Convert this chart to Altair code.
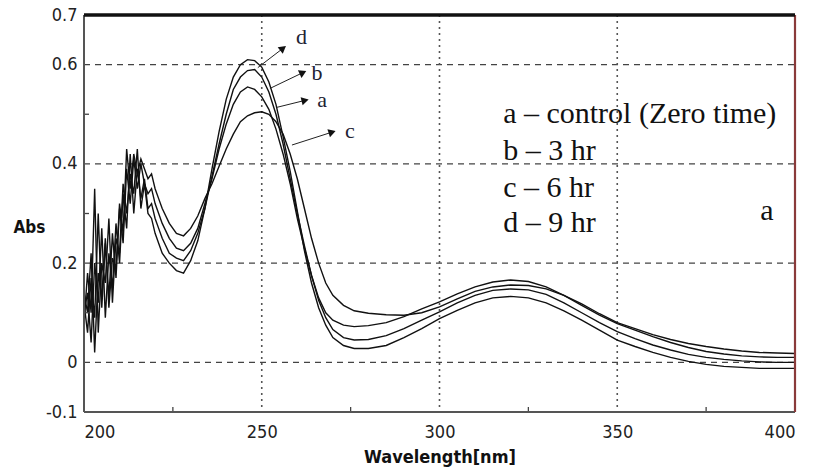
import math
import altair as alt
import pandas as pd

# ---------------- data ----------------
wl = [200, 201, 202, 203, 204, 205, 206, 207, 208, 209, 210, 211, 212, 213, 214, 215,
      216, 217, 218, 219, 220, 221, 222,
      224, 226, 228, 230, 232, 234, 236, 238, 240, 242, 244, 246, 248, 250, 252, 254,
      256, 258, 260, 262, 264, 266, 268, 270, 273, 276, 280, 285, 290, 295, 300, 305,
      310, 315, 320, 325, 330, 335, 340, 345, 350, 355, 360, 365, 370, 375, 380, 385,
      390, 395, 400]

abs_a = [0.12, 0.06, 0.17, 0.09, 0.30, 0.11, 0.24, 0.13, 0.26, 0.17, 0.31, 0.24, 0.39, 0.32,
         0.41, 0.35, 0.40, 0.36, 0.34, 0.35, 0.32, 0.30, 0.28,
         0.25, 0.23, 0.225, 0.24, 0.27, 0.32, 0.37, 0.43, 0.48, 0.52, 0.545, 0.555, 0.55,
         0.535, 0.51, 0.47, 0.42, 0.36, 0.29, 0.23, 0.175, 0.13, 0.10, 0.085, 0.075, 0.072,
         0.074, 0.08, 0.092, 0.108, 0.122, 0.138, 0.152, 0.162, 0.166, 0.163, 0.152, 0.135,
         0.115, 0.095, 0.078, 0.065, 0.052, 0.04, 0.03, 0.022, 0.017, 0.013, 0.011, 0.01, 0.01]

abs_b = [0.10, 0.14, 0.04, 0.20, 0.12, 0.27, 0.09, 0.22, 0.15, 0.28, 0.20, 0.34, 0.27, 0.42,
         0.30, 0.39, 0.33, 0.37, 0.31, 0.32, 0.29, 0.27, 0.25,
         0.22, 0.21, 0.205, 0.225, 0.26, 0.31, 0.375, 0.44, 0.50, 0.55, 0.575, 0.588, 0.59,
         0.575, 0.545, 0.50, 0.44, 0.37, 0.30, 0.235, 0.175, 0.125, 0.09, 0.066, 0.05, 0.045,
         0.046, 0.054, 0.068, 0.085, 0.102, 0.12, 0.135, 0.145, 0.148, 0.146, 0.137, 0.12,
         0.10, 0.08, 0.062, 0.048, 0.035, 0.025, 0.016, 0.01, 0.006, 0.003, 0.001, 0.0, 0.0]

abs_c = [0.14, 0.10, 0.22, 0.02, 0.18, 0.13, 0.25, 0.11, 0.21, 0.19, 0.32, 0.26, 0.43, 0.35,
         0.42, 0.38, 0.41, 0.39, 0.37, 0.38, 0.35, 0.33, 0.31,
         0.28, 0.26, 0.255, 0.27, 0.295, 0.33, 0.36, 0.395, 0.43, 0.46, 0.485, 0.497, 0.503,
         0.505, 0.50, 0.485, 0.46, 0.42, 0.37, 0.31, 0.25, 0.20, 0.16, 0.135, 0.115, 0.104,
         0.099, 0.096, 0.095, 0.10, 0.112, 0.128, 0.143, 0.152, 0.156, 0.155, 0.148, 0.135,
         0.118, 0.098, 0.08, 0.068, 0.056, 0.046, 0.038, 0.032, 0.027, 0.023, 0.02, 0.019, 0.018]

abs_d = [0.08, 0.18, 0.10, 0.35, 0.06, 0.20, 0.16, 0.29, 0.12, 0.25, 0.22, 0.36, 0.30, 0.38,
         0.34, 0.43, 0.31, 0.36, 0.30, 0.29, 0.26, 0.24, 0.22,
         0.20, 0.185, 0.18, 0.205, 0.245, 0.31, 0.39, 0.465, 0.53, 0.575, 0.60, 0.61, 0.608,
         0.595, 0.565, 0.52, 0.455, 0.385, 0.305, 0.225, 0.16, 0.11, 0.075, 0.05, 0.034, 0.028,
         0.028, 0.034, 0.05, 0.068, 0.088, 0.105, 0.12, 0.13, 0.133, 0.13, 0.12, 0.104,
         0.085, 0.065, 0.045, 0.032, 0.02, 0.01, 0.002, -0.004, -0.008, -0.01, -0.012, -0.012, -0.012]

# arrow callouts (data units)
arrow_lab = ["d", "b", "a", "c"]
arrow_x0 = [248.9, 252.3, 254.3, 258.5]
arrow_y0 = [0.594, 0.552, 0.514, 0.438]
arrow_x1 = [256.0, 261.6, 262.2, 269.8]
arrow_y1 = [0.633, 0.584, 0.528, 0.464]
lab_x = [259.6, 264.0, 265.6, 273.4]
lab_y = [0.655, 0.584, 0.528, 0.466]

legend_lines = ["a \u2013 control (Zero time)", "b \u2013 3 hr", "c \u2013 6 hr", "d \u2013 9 hr"]
legend_x = [317.9, 317.9, 317.9, 317.9]
legend_y = [0.482, 0.408, 0.333, 0.263]
panel_label = ["a"]
panel_x = [392.1]
panel_y = [0.287]

y_label_vals = [-0.1, 0, 0.2, 0.4, 0.6, 0.7]
y_grid = [0, 0.2, 0.4, 0.6]
y_minor = [0.1, 0.3, 0.5]
x_label_vals = [200, 250, 300, 350, 400]
x_grid = [250, 300, 350]
x_minor = [225, 275, 325, 375]

# ---------------- build ----------------
W, H = 711, 397
XD, YD = [200, 400], [-0.1, 0.7]

rows = []
for name, vals in zip(["a", "b", "c", "d"], [abs_a, abs_b, abs_c, abs_d]):
    for w, v in zip(wl, vals):
        rows.append({"curve": name, "wl": w, "abs": v})
df = pd.DataFrame(rows)

xs = alt.Scale(domain=XD, nice=False, zero=False)
ys = alt.Scale(domain=YD, nice=False, zero=False)

LF = "Liberation Sans Narrow, DejaVu Sans Condensed, Liberation Sans, Arial"
base_x_axis = alt.Axis(values=x_label_vals, ticks=False, grid=False, domain=False,
                       labelFont=LF, labelFontSize=18, labelColor="#222", labelPadding=11,
                       title="Wavelength[nm]", titleFont=LF,
                       titleFontSize=18, titleFontWeight="bold", titleColor="#111",
                       titlePadding=7, format="d")
base_y_axis = alt.Axis(values=y_label_vals, ticks=False, grid=False, domain=False,
                       labelFont=LF, labelFontSize=18, labelColor="#222", labelPadding=7,
                       title="Abs", titleAngle=0, titleX=-71, titleY=212,
                       titleAlign="left", titleBaseline="middle",
                       titleFont=LF, titleFontSize=17,
                       titleFontWeight="bold", titleColor="#111",
                       labelExpr="datum.value == 0 ? '0' : replace(format(datum.value, '.1f'), '\u2212', '-')")

curves = alt.Chart(df).mark_line(color="#111", strokeWidth=1.4, interpolate="linear").encode(
    x=alt.X("wl:Q", scale=xs, axis=base_x_axis),
    y=alt.Y("abs:Q", scale=ys, axis=base_y_axis),
    detail="curve:N",
)

hgrid = alt.Chart(pd.DataFrame({"v": y_grid})).mark_rule(
    color="#444", strokeWidth=1.4, strokeDash=[6, 5]).encode(
    y=alt.Y("v:Q", scale=ys), x=alt.value(0), x2=alt.value(W))
vgrid = alt.Chart(pd.DataFrame({"v": x_grid})).mark_rule(
    color="#555", strokeWidth=1.6, strokeDash=[2, 4]).encode(
    x=alt.X("v:Q", scale=xs), y=alt.value(0), y2=alt.value(H))
yminor = alt.Chart(pd.DataFrame({"v": y_minor})).mark_rule(
    color="#444", strokeWidth=1.3).encode(
    y=alt.Y("v:Q", scale=ys), x=alt.value(0), x2=alt.value(5))
xminor = alt.Chart(pd.DataFrame({"v": x_minor})).mark_rule(
    color="#444", strokeWidth=1.3).encode(
    x=alt.X("v:Q", scale=xs), y=alt.value(H - 5), y2=alt.value(H))

left_b = alt.Chart(pd.DataFrame({"k": [0]})).mark_rule(color="#555", strokeWidth=2).encode(
    x=alt.value(0), y=alt.value(0), y2=alt.value(H))
bottom_b = alt.Chart(pd.DataFrame({"k": [0]})).mark_rule(color="#555", strokeWidth=2).encode(
    x=alt.value(0), x2=alt.value(W), y=alt.value(H))
top_b = alt.Chart(pd.DataFrame({"k": [0]})).mark_rule(color="#111", strokeWidth=3.5).encode(
    x=alt.value(0), x2=alt.value(W), y=alt.value(0))
right_b = alt.Chart(pd.DataFrame({"k": [0]})).mark_rule(color="#8a3a3a", strokeWidth=2.2).encode(
    x=alt.value(W), y=alt.value(0), y2=alt.value(H))

# arrows
angles = []
for x0, y0, x1, y1 in zip(arrow_x0, arrow_y0, arrow_x1, arrow_y1):
    dx = (x1 - x0) * W / (XD[1] - XD[0])
    dy = (y1 - y0) * H / (YD[1] - YD[0])
    angles.append((-math.degrees(math.atan2(dy, dx))) % 360)
adf = pd.DataFrame({"lab": arrow_lab, "x0": arrow_x0, "y0": arrow_y0, "x1": arrow_x1,
                    "y1": arrow_y1, "lx": lab_x, "ly": lab_y, "ang": angles})
arrow_lines = alt.Chart(adf).mark_rule(color="#222", strokeWidth=1).encode(
    x=alt.X("x0:Q", scale=xs), y=alt.Y("y0:Q", scale=ys), x2="x1:Q", y2="y1:Q")
arrow_heads = alt.Chart(adf).mark_point(shape="triangle-right", filled=True, color="#111",
                                        size=70, opacity=1).encode(
    x=alt.X("x1:Q", scale=xs), y=alt.Y("y1:Q", scale=ys),
    angle=alt.Angle("ang:Q", scale=None))
arrow_text = alt.Chart(adf).mark_text(font="Liberation Serif", fontSize=22, color="#223",
                                      align="left", baseline="middle").encode(
    x=alt.X("lx:Q", scale=xs), y=alt.Y("ly:Q", scale=ys), text="lab:N")

ldf = pd.DataFrame({"t": legend_lines, "x": legend_x, "y": legend_y})
legend_text = alt.Chart(ldf).mark_text(font="Liberation Serif", fontSize=30, color="#111",
                                       align="left", baseline="alphabetic").encode(
    x=alt.X("x:Q", scale=xs), y=alt.Y("y:Q", scale=ys), text="t:N")
pdf = pd.DataFrame({"t": panel_label, "x": panel_x, "y": panel_y})
panel_text = alt.Chart(pdf).mark_text(font="Liberation Serif", fontSize=30, color="#111",
                                      align="center", baseline="alphabetic").encode(
    x=alt.X("x:Q", scale=xs), y=alt.Y("y:Q", scale=ys), text="t:N")

chart = alt.layer(
    hgrid, vgrid, curves, yminor, xminor, arrow_lines, arrow_heads, arrow_text,
    legend_text, panel_text, left_b, bottom_b, right_b, top_b,
).properties(
    width=W, height=H,
    autosize=alt.AutoSizeParams(type="none"),
    padding={"left": 84, "top": 15, "right": 20, "bottom": 63},
    background="white",
).configure_view(stroke=None)

chart.save("out.html", embed_options={"renderer": "svg", "actions": False})
